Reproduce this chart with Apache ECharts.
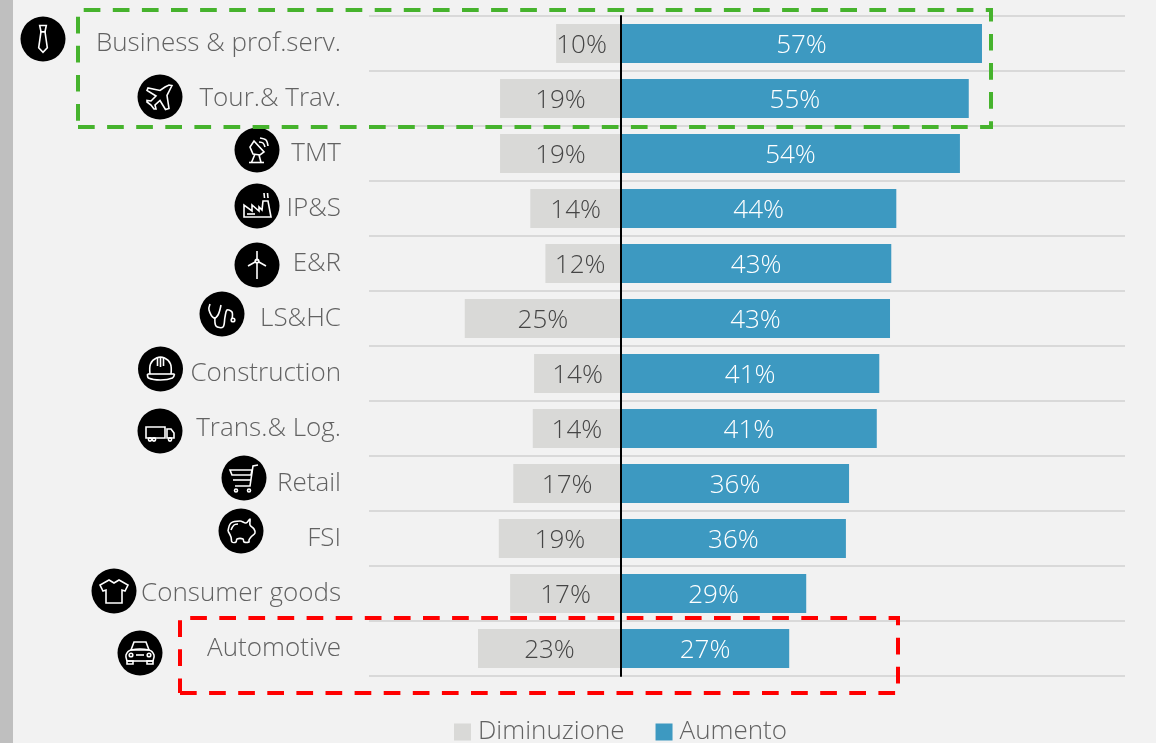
<!DOCTYPE html>
<html><head><meta charset="utf-8">
<style>html,body{margin:0;padding:0;background:#f2f2f2}#c{width:1166px;height:743px}</style>
<script src="https://cdn.jsdelivr.net/npm/echarts@6/dist/echarts.min.js"></script>
</head><body><div id="c"></div>
<script>
const categories = ['Business & prof.serv.','Tour.& Trav.','TMT','IP&S','E&R','LS&HC','Construction','Trans.& Log.','Retail','FSI','Consumer goods','Automotive'];
const decreaseValues = [-10.3,-19.2,-19.2,-14.4,-12,-24.8,-13.8,-14,-17.1,-19.4,-17.6,-22.7];
const increaseValues = [57.3,55.2,53.8,43.7,42.9,42.7,41,40.6,36.2,35.7,29.4,26.7];
const decreaseLabels = ['10%','19%','19%','14%','12%','25%','14%','14%','17%','19%','17%','23%'];
const increaseLabels = ['57%','55%','54%','44%','43%','43%','41%','41%','36%','36%','29%','27%'];
const iconCentres = [[43,39],[160,97],[257,150],[257,206],[257,265],[222,314],[160.5,369],[160,431],[244,478],[241,531],[114,591],[140,653]];
const FONT = '"Open Sans"';

const iconShapes = [
 // tie
 [['g',[[-3.3,-13.5],[3.3,-13.5],[2,-7.3],[-2,-7.3]]],['g',[[-2,-7.3],[-4.3,8.7],[0,13.3],[4.3,8.7],[2,-7.3]]]],
 // plane
 [['g',[[12,-11.5],[7,-1.5],[9,11.5],[5.5,12.5],[0,3.5],[-5,8],[-4,12],[-6,12],[-9,8],[-13,5],[-13,3.5],[-9,4],[-4,-1],[-13,-6.5],[-12,-9],[0,-6.5],[5,-10],[9,-12]]]],
 // dish
 [['g',[[-3,-9],[7,2],[3,5],[-4,4],[-7,-3]]],['p',[[-2,4],[-5.5,12.5]]],['p',[[2,5],[4,12.5]]],['p',[[-8,12.5],[7,12.5]]],['s',[[2,-8],[6,-7],[8,-3]]],['s',[[3,-12],[9,-10],[11,-4]]]],
 // factory
 [['g',[[-13,11],[-13,-1],[-5,5],[-5,-1],[2,5],[2,1],[5,4],[6,-5],[11,-5],[14,11]]],['p',[[-10,8],[-2,8]]],['p',[[7.5,-8],[7,-13]]],['p',[[11,-8],[10.5,-13]]]],
 // wind turbine
 [['p',[[0,-2],[0,14]]],['p',[[0,-4],[0,-14]]],['p',[[-1,-3.5],[-9,1]]],['p',[[1,-3.5],[9,1]]],['c',[0,-4,1.8]]],
 // stethoscope
 [['s',[[-12,-10],[-13,-4],[-8,4],[-4,1],[-1,-9]]],['s',[[-7,3],[-6,12],[1,13],[3,3],[5,-4],[10,-2],[10,5]]],['c',[11,6,1.8]]],
 // helmet
 [['s',[[-10.5,5],[-10,-5],[-4,-11],[4,-11],[10,-5],[10.5,5]]],['s',[[-13,5],[-12,9],[0,11],[12,9],[14,5]]],['p',[[-13,5],[14,5]]],['p',[[-3,-12],[-3,-3]]],['p',[[3,-12],[3,-3]]],['p',[[0,-12],[0,-2]]]],
 // truck
 [['g',[[-14,-4],[5,-4],[5,7],[-14,7]]],['g',[[7,-2],[11,-2],[14,2],[14,7],[7,7]]],['c',[-10,8.5,1.6]],['c',[-6,8.5,1.6]],['c',[10,8.5,1.6]]],
 // cart
 [['p',[[14,-13],[9,-12],[6,8],[-9,8]]],['g',[[-14,-8],[8,-8],[7,-3],[-12,-3]]],['p',[[-11,2],[7,2]]],['c',[-8,12.5,1.5]],['c',[5,12.5,1.5]]],
 // piggy
 [['s',[[-13,0],[-10,-8],[-1,-10],[5,-8],[9,-12],[9,-6],[13,-2],[14,2],[10,6],[8,9],[8,11],[3,11],[2,8],[-4,8],[-5,11],[-9,11],[-10,6],[-13,0]]],['s',[[-10,-1],[-7,-6],[-3,-7]]]],
 // t-shirt
 [['g',[[-5,-11],[0,-8],[5,-11],[14,-6],[11,0],[8,-1],[8,12],[-8,12],[-8,-1],[-11,0],[-14,-6]]]],
 // car
 [['g',[[-9,-3],[-6,-11],[6,-11],[9,-3]]],['s',[[-13,8],[-14,2],[-9,-3],[9,-3],[14,2],[13,8]]],['p',[[-13,8],[13,8]]],['g',[[-13,8],[-7,8],[-7,11],[-13,11]]],['g',[[7,8],[13,8],[13,11],[7,11]]],['p',[[-4,2],[4,2]]],['c',[-9,2,1.8]],['c',[9,2,1.8]]]
];

function iconElement(shapes, centre) {
  const stroke = {stroke:'#fff', lineWidth:1.6, fill:null};
  const children = [{type:'circle', shape:{cx:0,cy:0,r:22.5}, style:{fill:'#000'}}];
  shapes.forEach(s => {
    const [k, d] = s;
    if (k === 'c') children.push({type:'circle', shape:{cx:d[0],cy:d[1],r:d[2]}, style:stroke});
    else if (k === 'g') children.push({type:'polygon', shape:{points:d}, style:stroke});
    else if (k === 's') children.push({type:'polyline', shape:{points:d, smooth:0.35}, style:stroke});
    else children.push({type:'polyline', shape:{points:d}, style:stroke});
  });
  return {type:'group', x:centre[0], y:centre[1], z:20, children};
}
function dashedBox(x0,y0,x1,y1,color){
  return {type:'polyline', z:30, shape:{points:[[x0,y1],[x1,y1],[x1,y0],[x0,y0],[x0,y1]]},
    style:{stroke:color, lineWidth:4, fill:null, lineDash:[16.7,12.4], lineJoin:'miter'}};
}

const chart = echarts.init(document.getElementById('c'));
chart.setOption({
  animation:false,
  backgroundColor:'#f2f2f2',
  textStyle:{fontFamily:FONT},
  grid:{left:369, right:41, top:16, height:660, containLabel:false},
  xAxis:{type:'value', min:-40, max:80, interval:20, show:false},
  yAxis:[
    {type:'category', data:categories, inverse:true, z:10, position:'left',
     axisLine:{show:true, onZero:true, lineStyle:{color:'#000', width:2}},
     axisTick:{show:false}, axisLabel:{show:false}, splitLine:{show:false}},
    {type:'category', data:categories, inverse:true, position:'left',
     axisLine:{show:false, onZero:false}, axisTick:{show:false},
     axisLabel:{show:true, margin:28, color:'#626262', fontSize:26, fontFamily:FONT, fontWeight:300, padding:[7,0,0,0]},
     splitLine:{show:true, lineStyle:{color:'#d9d9d9', width:2}}}
  ],
  legend:{left:454, top:719, padding:0, itemWidth:17, itemHeight:17, itemGap:31, icon:'rect',
    data:['Diminuzione','Aumento'],
    textStyle:{color:'#626262', fontSize:26, fontFamily:FONT, fontWeight:300, padding:[0,0,0,2]}},
  series:[
    {name:'Diminuzione', type:'bar', stack:'t', yAxisIndex:0, barWidth:39, data:decreaseValues,
     itemStyle:{color:'#d9d9d7'},
     labelLayout:p=>({dx: p.dataIndex===0 ? -7 : (p.dataIndex===4 ? -3 : 0), dy:2}),
     label:{show:true, position:'inside', color:'#454545', fontSize:26, fontFamily:FONT, fontWeight:300,
       formatter:p=>decreaseLabels[p.dataIndex]}},
    {name:'Aumento', type:'bar', stack:'t', yAxisIndex:0, barWidth:39, data:increaseValues,
     itemStyle:{color:'#3d99c1'},
     label:{show:true, position:'inside', color:'#fff', fontSize:26, fontFamily:FONT, fontWeight:300,
       offset:[0,2], formatter:p=>increaseLabels[p.dataIndex]}}
  ],
  graphic:{elements:[
    {type:'rect', z:-1, shape:{x:0,y:0,width:13,height:743}, style:{fill:'#bfbfbf'}},
    {type:'rect', z:-1, shape:{x:1156,y:0,width:10,height:743}, style:{fill:'#ffffff'}},
    ...iconShapes.map((s,i)=>iconElement(s, iconCentres[i])),
    dashedBox(78,10,991,127,'#46b32d'),
    dashedBox(180,618,898,693,'#ff0000')
  ]}
});
</script></body></html>
